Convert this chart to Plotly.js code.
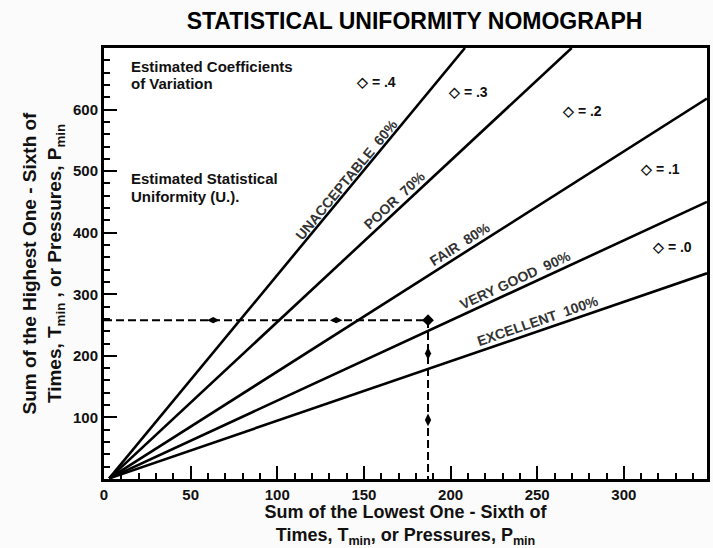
<!DOCTYPE html>
<html>
<head>
<meta charset="utf-8">
<script src="https://cdn.plot.ly/plotly-3.0.1.min.js"></script>
<style>html,body{margin:0;padding:0;background:#fbfbfb;}</style>
</head>
<body>
<div id="chart" style="width:713px;height:548px;"></div>
<script>
// ---- data ----
const xTickVals = [0, 50, 100, 150, 200, 250, 300];
const yTickVals = [100, 200, 300, 400, 500, 600];

const gradeLabels = ['UNACCEPTABLE  60%', 'POOR  70%', 'FAIR  80%', 'VERY GOOD  90%', 'EXCELLENT  100%'];
const lineStartX = [3, 3, 3, 3, 3];
const lineStartY = [1, 1, 1, 1, 1];
const lineEndX = [208.3, 269.9, 348, 348, 348];
const lineEndY = [700, 700, 618, 450, 334];
const gradeLabelX = [139.7, 167.9, 205.5, 237.2, 249.9];

const cvLabels = ['\u25C7 = .4', '\u25C7 = .3', '\u25C7 = .2', '\u25C7 = .1', '\u25C7 = .0'];
const cvX = [157, 210, 275.6, 321, 328];
const cvY = [645, 629, 598, 503, 376];

const exampleX = 187;
const exampleY = 258;
const dotX = [63, 134, 187, 187, 187];
const dotY = [258, 258, 258, 204, 96];
const dotSymbol = ['diamond-wide', 'diamond-wide', 'diamond', 'diamond-tall', 'diamond-tall'];

const noteLines = ['Estimated Coefficients', 'of Variation', 'Estimated Statistical', 'Uniformity (U.).'];
const noteX = [14.6, 14.6, 14.6, 14.6];
const noteY = [669.6, 642.7, 488.4, 458.5];

// ---- layout geometry ----
const W = 713, H = 548;
const M = {l: 104, r: 6, t: 48, b: 69};
const xRange = [0, 348];
const yRange = [0, 700];
const kx = (W - M.l - M.r) / (xRange[1] - xRange[0]);
const ky = (H - M.t - M.b) / (yRange[1] - yRange[0]);
const FONT = 'Liberation Sans, Arial, Helvetica, sans-serif';

const traces = [];
for (let i = 0; i < gradeLabels.length; i++) {
  traces.push({
    type: 'scatter', mode: 'lines',
    x: [lineStartX[i], lineEndX[i]], y: [lineStartY[i], lineEndY[i]],
    line: {color: '#000', width: 2.6}, hoverinfo: 'skip', showlegend: false
  });
}
traces.push({
  type: 'scatter', mode: 'lines',
  x: [xRange[0], exampleX, exampleX], y: [exampleY, exampleY, 0],
  line: {color: '#000', width: 2, dash: '8px,4px'}, showlegend: false, hoverinfo: 'skip'
});
traces.push({
  type: 'scatter', mode: 'markers', x: dotX, y: dotY,
  marker: {color: '#000', size: 9, symbol: dotSymbol}, showlegend: false, hoverinfo: 'skip'
});

const annotations = [];
const gradeShift = [12, 12, 11, 11, 11];
for (let i = 0; i < gradeLabels.length; i++) {
  const sx = lineEndX[i] - lineStartX[i], sy = lineEndY[i] - lineStartY[i];
  const ang = -Math.atan2(sy * ky, sx * kx) * 180 / Math.PI;
  const yOnLine = lineStartY[i] + (gradeLabelX[i] - lineStartX[i]) / sx * sy;
  annotations.push({
    x: gradeLabelX[i], y: yOnLine, xref: 'x', yref: 'y', text: gradeLabels[i],
    showarrow: false, textangle: ang, yshift: gradeShift[i],
    font: {family: FONT, size: 14, color: '#333', weight: 'bold'}
  });
}
for (let i = 0; i < cvLabels.length; i++) {
  annotations.push({
    x: cvX[i], y: cvY[i], xref: 'x', yref: 'y', text: cvLabels[i], showarrow: false,
    font: {family: FONT, size: 14, color: '#111', weight: 'bold'}
  });
}
for (let i = 0; i < noteLines.length; i++) {
  annotations.push({
    x: noteX[i], y: noteY[i], xref: 'x', yref: 'y', text: noteLines[i], showarrow: false,
    xanchor: 'left', font: {family: FONT, size: 15, color: '#111', weight: 'bold'}
  });
}

const axisCommon = {
  showline: true, linecolor: '#000', linewidth: 3, mirror: true,
  ticks: 'inside', ticklen: 13, tickwidth: 2, tickcolor: '#000',
  showgrid: false, zeroline: false, tickmode: 'array',
  tickfont: {family: FONT, size: 15, color: '#111', weight: 'bold'}
};

const layout = {
  width: W, height: H, autosize: false, margin: M,
  paper_bgcolor: '#fbfbfb', plot_bgcolor: '#ffffff',
  font: {family: FONT, color: '#111'},
  title: {
    text: 'STATISTICAL UNIFORMITY NOMOGRAPH', xref: 'paper', x: 0.515,
    yref: 'container', y: 1 - 21 / H, yanchor: 'middle',
    font: {family: FONT, size: 23, color: '#000', weight: 'bold'}
  },
  xaxis: Object.assign({}, axisCommon, {
    range: xRange, tickvals: xTickVals, ticktext: xTickVals.map(String),
    minor: {ticks: 'inside', ticklen: 6, tickwidth: 2, tickcolor: '#000', tick0: 0, dtick: 10},
    title: {
      text: 'Sum of the Lowest One - Sixth of<br>Times, T<sub>min</sub>, or Pressures, P<sub>min</sub>',
      standoff: 3, font: {family: FONT, size: 18, color: '#111', weight: 'bold'}
    }
  }),
  yaxis: Object.assign({}, axisCommon, {
    range: yRange, tickvals: yTickVals, ticktext: yTickVals.map(String),
    minor: {ticks: 'inside', ticklen: 6, tickwidth: 2, tickcolor: '#000', tick0: 0, dtick: 20},
    title: {
      text: 'Sum of the Highest One - Sixth of<br>Times, T<sub>min</sub> , or Pressures, P<sub>min</sub>',
      standoff: 7, font: {family: FONT, size: 19, color: '#111', weight: 'bold'}
    }
  }),
  annotations: annotations
};

Plotly.newPlot('chart', traces, layout, {displayModeBar: false, staticPlot: true});
</script>
</body>
</html>
